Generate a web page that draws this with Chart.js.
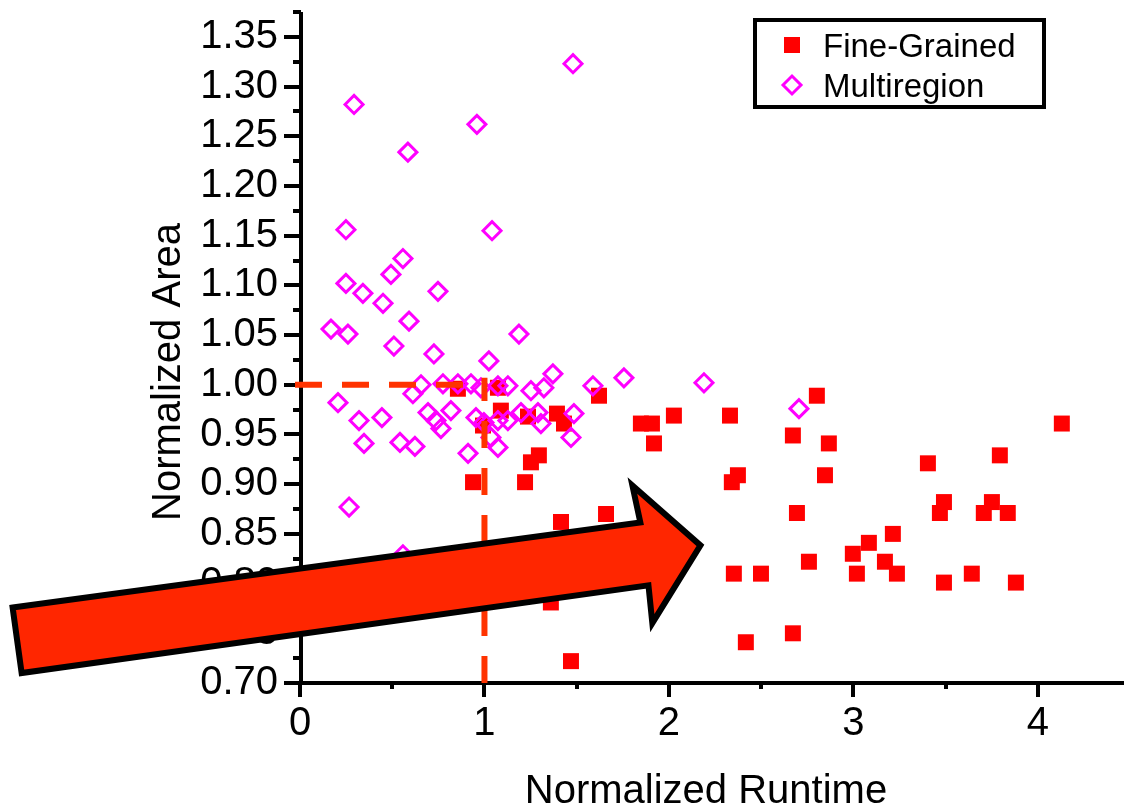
<!DOCTYPE html>
<html>
<head>
<meta charset="utf-8">
<title>Normalized Area vs Runtime</title>
<script src="https://cdn.jsdelivr.net/npm/chart.js@4.4.1/dist/chart.umd.min.js"></script>
<style>
  html, body { margin: 0; padding: 0; background: #fff; }
  #wrap { width: 1124px; height: 807px; }
</style>
</head>
<body>
<div id="wrap"><canvas id="scatter" width="1124" height="807"></canvas></div>
<script>
// Fine-Grained (red squares)
const fineX = [0.856, 1.073, 1.621, 0.992, 1.089, 1.236, 1.393, 1.431, 1.848, 1.908,
  2.027, 2.331, 1.919, 2.672, 2.867, 2.802, 4.13, 3.794, 3.404, 1.252,
  1.295, 0.938, 1.22, 2.374, 2.341, 2.846, 3.491, 3.469, 3.751, 3.707,
  3.837, 2.694, 1.659, 1.415, 3.214, 3.084, 2.997, 3.171, 2.759, 2.352,
  2.499, 3.019, 3.236, 3.642, 3.491, 3.881, 1.36, 2.417, 2.672, 1.469];
const fineY = [0.996, 0.997, 0.989, 0.959, 0.974, 0.968, 0.971, 0.961, 0.961, 0.961,
  0.969, 0.969, 0.941, 0.949, 0.941, 0.989, 0.961, 0.929, 0.921, 0.922,
  0.929, 0.902, 0.902, 0.909, 0.902, 0.909, 0.882, 0.871, 0.882, 0.871,
  0.871, 0.871, 0.87, 0.862, 0.85, 0.841, 0.83, 0.822, 0.822, 0.81,
  0.81, 0.81, 0.81, 0.81, 0.801, 0.801, 0.781, 0.741, 0.75, 0.722];

// Multiregion (magenta open diamonds)
const multiX = [1.48, 0.293, 0.959, 0.585, 0.249, 1.041, 0.558, 0.493, 0.249, 0.341,
  0.45, 0.748, 0.591, 0.168, 0.26, 1.187, 0.509, 0.726, 1.024, 1.371,
  1.756, 2.19, 1.588, 0.206, 0.32, 0.444, 0.347, 0.542, 0.623, 0.612,
  0.656, 0.775, 0.856, 0.927, 0.981, 1.073, 1.127, 1.252, 1.322, 0.694,
  0.737, 0.818, 0.764, 0.954, 0.997, 1.073, 1.127, 1.198, 1.306, 1.29,
  1.485, 1.469, 0.911, 1.073, 1.035, 2.705, 0.266, 0.558];
const multiY = [1.323, 1.282, 1.262, 1.234, 1.156, 1.155, 1.127, 1.111, 1.102, 1.092,
  1.082, 1.094, 1.064, 1.056, 1.051, 1.051, 1.039, 1.031, 1.024, 1.011,
  1.007, 1.002, 0.999, 0.982, 0.964, 0.967, 0.941, 0.942, 0.938, 0.991,
  1.0, 1.001, 1.001, 1.001, 0.997, 0.999, 0.999, 0.994, 0.997, 0.972,
  0.964, 0.974, 0.956, 0.967, 0.962, 0.964, 0.964, 0.972, 0.961, 0.972,
  0.971, 0.947, 0.931, 0.937, 0.947, 0.976, 0.877, 0.829];

// reference point (1, 1.00) marked by the dashed lines
const refX = 1;
const refY = 1.0;

// the big arrow annotation, outline in data units
const arrowShape = [[-1.558, 0.776], [1.845, 0.8615], [1.802, 0.8986], [2.171, 0.8384],
  [1.91, 0.7602], [1.889, 0.7983], [-1.509, 0.71]];

const FONT = "'Liberation Sans', Arial, sans-serif";

function toPoints(xs, ys) {
  return xs.map((x, i) => ({ x: x, y: ys[i] }));
}

function isMultiple(v, step) {
  const r = Math.round(v * 1000);
  return r % Math.round(step * 1000) === 0;
}

const decorPlugin = {
  id: "decor",
  beforeDatasetsDraw(chart) {
    const { ctx, chartArea: a, scales: { x, y } } = chart;
    ctx.save();
    ctx.strokeStyle = "#000";
    ctx.lineWidth = 4;
    ctx.lineCap = "butt";
    // axis lines (the x axis runs on to the edge of the picture)
    ctx.beginPath();
    ctx.moveTo(a.left + 1, a.top);
    ctx.lineTo(a.left + 1, a.bottom + 2);
    ctx.moveTo(a.left - 1, a.bottom);
    ctx.lineTo(chart.width, a.bottom);
    ctx.stroke();
    // y ticks every 0.025, major every 0.05
    ctx.beginPath();
    for (let v = y.min; v <= y.max + 1e-9; v += 0.025) {
      const py = Math.round(y.getPixelForValue(v));
      const len = isMultiple(v, 0.05) ? 17 : 8;
      ctx.moveTo(a.left + 1, py);
      ctx.lineTo(a.left + 1 - len, py);
    }
    // x ticks every 0.5, major every 1
    for (let v = x.min; v <= x.max + 1e-9; v += 0.5) {
      const px = Math.round(x.getPixelForValue(v));
      const len = isMultiple(v, 1) ? 14 : 6;
      ctx.moveTo(px, a.bottom);
      ctx.lineTo(px, a.bottom + len);
    }
    ctx.stroke();
    ctx.restore();

    // y axis title
    ctx.save();
    ctx.fillStyle = "#000";
    ctx.font = "40px " + FONT;
    ctx.textAlign = "center";
    ctx.textBaseline = "alphabetic";
    ctx.translate(180, 372);
    ctx.rotate(-Math.PI / 2);
    ctx.fillText("Normalized Area", 0, 0);
    ctx.restore();
  },
  afterDatasetsDraw(chart) {
    const { ctx, scales: { x, y } } = chart;
    // dashed lines to the (1, 1.00) point
    ctx.save();
    ctx.strokeStyle = "#ff3300";
    ctx.lineWidth = 6;
    ctx.setLineDash([27, 20]);
    ctx.beginPath();
    ctx.moveTo(x.getPixelForValue(0) - 5, y.getPixelForValue(refY));
    ctx.lineTo(x.getPixelForValue(refX), y.getPixelForValue(refY));
    ctx.stroke();
    ctx.beginPath();
    ctx.moveTo(x.getPixelForValue(refX), y.getPixelForValue(y.min));
    ctx.lineTo(x.getPixelForValue(refX), y.getPixelForValue(refY) - 7);
    ctx.stroke();
    ctx.restore();

    // arrow
    ctx.save();
    ctx.beginPath();
    arrowShape.forEach((p, i) => {
      const px = x.getPixelForValue(p[0]);
      const py = y.getPixelForValue(p[1]);
      if (i === 0) ctx.moveTo(px, py); else ctx.lineTo(px, py);
    });
    ctx.closePath();
    ctx.fillStyle = "#ff2600";
    ctx.fill();
    ctx.lineWidth = 6;
    ctx.lineJoin = "miter";
    ctx.strokeStyle = "#000";
    ctx.stroke();
    ctx.restore();
  },
  afterDraw(chart) {
    const ctx = chart.ctx;
    const sets = chart.data.datasets;
    ctx.save();
    ctx.fillStyle = "#fff";
    ctx.fillRect(755, 20, 289, 87);
    ctx.strokeStyle = "#000";
    ctx.lineWidth = 4;
    ctx.strokeRect(755, 20, 289, 87);
    ctx.font = "33px " + FONT;
    ctx.textBaseline = "alphabetic";
    ctx.textAlign = "left";
    const rows = [45, 85];
    sets.forEach((ds, i) => {
      ctx.save();
      ctx.fillStyle = ds.backgroundColor;
      ctx.strokeStyle = ds.borderColor;
      ctx.lineWidth = ds.borderWidth;
      Chart.helpers.drawPoint(ctx, {
        pointStyle: ds.pointStyle,
        radius: ds.pointRadius,
        borderWidth: ds.borderWidth,
        rotation: 0
      }, 792, rows[i]);
      ctx.restore();
      ctx.fillStyle = "#000";
      ctx.fillText(ds.label, 823, rows[i] + 12);
    });
    ctx.restore();
  }
};

const chart = new Chart(document.getElementById("scatter").getContext("2d"), {
  type: "scatter",
  data: {
    datasets: [{
      label: "Fine-Grained",
      data: toPoints(fineX, fineY),
      pointStyle: "rect",
      pointRadius: 11.3,
      backgroundColor: "#ff0000",
      borderColor: "#ff0000",
      borderWidth: 0,
      order: 1
    }, {
      label: "Multiregion",
      data: toPoints(multiX, multiY),
      pointStyle: "rectRot",
      pointRadius: 9,
      backgroundColor: "rgba(0,0,0,0)",
      borderColor: "#ff00ff",
      borderWidth: 3,
      order: 0
    }]
  },
  options: {
    responsive: false,
    devicePixelRatio: 1,
    animation: false,
    layout: { padding: { top: 10, right: 0, bottom: 0, left: 0 } },
    plugins: {
      legend: { display: false },
      tooltip: { enabled: false }
    },
    scales: {
      x: {
        type: "linear",
        bounds: "data",
        min: 0,
        max: 4.402,
        afterFit: s => {
          s.height = 124;
          s.paddingLeft = 0;
          s.paddingRight = 0;
        },
        grid: { display: true, drawOnChartArea: false, drawTicks: true, tickLength: 14, tickColor: "rgba(0,0,0,0)" },
        border: { display: false },
        ticks: {
          stepSize: 0.5,
          includeBounds: false,
          autoSkip: false,
          maxRotation: 0,
          padding: 3,
          color: "#000",
          font: { family: FONT, size: 40 },
          callback: v => (isMultiple(v, 1) ? String(Math.round(v)) : null)
        },
        title: {
          display: true,
          text: "Normalized Runtime",
          color: "#000",
          font: { family: FONT, size: 40, lineHeight: 1 },
          padding: { top: 0, bottom: -5 }
        }
      },
      y: {
        type: "linear",
        bounds: "data",
        min: 0.7,
        max: 1.375,
        afterFit: s => {
          s.width = 300;
          s.paddingTop = 0;
          s.paddingBottom = 0;
        },
        grid: { display: true, drawOnChartArea: false, drawTicks: true, tickLength: 18, tickColor: "rgba(0,0,0,0)" },
        border: { display: false },
        ticks: {
          stepSize: 0.025,
          includeBounds: false,
          autoSkip: false,
          padding: 4,
          color: "#000",
          font: { family: FONT, size: 40 },
          callback: v => (isMultiple(v, 0.05) && v < 1.36 ? v.toFixed(2) : null)
        }
      }
    }
  },
  plugins: [decorPlugin]
});
</script>
</body>
</html>
